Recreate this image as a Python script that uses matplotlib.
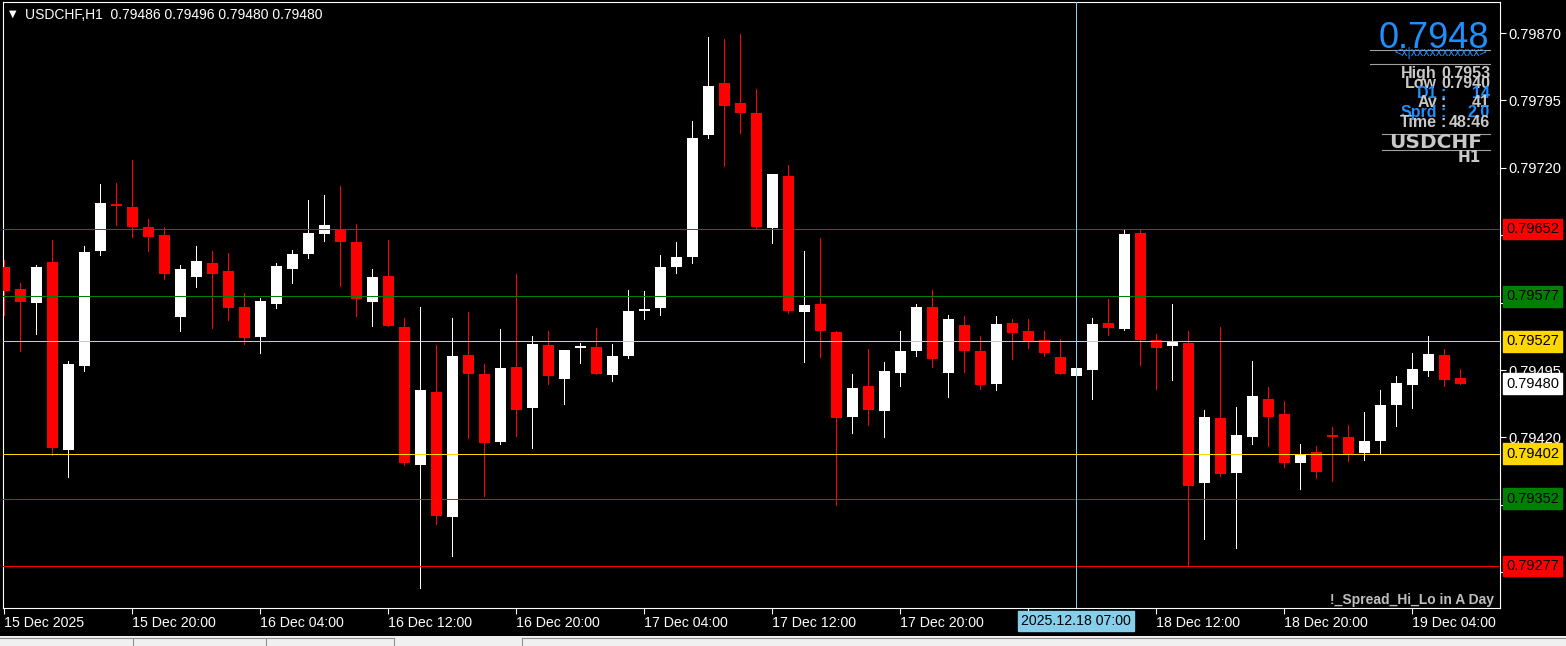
import matplotlib
matplotlib.use("Agg")
import matplotlib.pyplot as plt
from matplotlib.lines import Line2D
from matplotlib.patches import Rectangle
import numpy as np
import pandas as pd

# USDCHF H1 candles
start_time = "2025-12-15 12:00"
opens = [0.79610, 0.79585, 0.79570, 0.79615, 0.79406, 0.79499, 0.79628, 0.79680, 0.79676, 0.79654,
         0.79645, 0.79554, 0.79598, 0.79614, 0.79605, 0.79565, 0.79532, 0.79568, 0.79608, 0.79624,
         0.79646, 0.79651, 0.79637, 0.79571, 0.79600, 0.79543, 0.79389, 0.79471, 0.79331, 0.79512,
         0.79491, 0.79415, 0.79498, 0.79453, 0.79523, 0.79485, 0.79520, 0.79521, 0.79490, 0.79511,
         0.79561, 0.79564, 0.79610, 0.79621, 0.79757, 0.79814, 0.79792, 0.79781, 0.79653, 0.79711,
         0.79560, 0.79568, 0.79537, 0.79443, 0.79477, 0.79449, 0.79492, 0.79516, 0.79565, 0.79492,
         0.79545, 0.79516, 0.79480, 0.79547, 0.79538, 0.79528, 0.79510, 0.79488, 0.79495, 0.79547,
         0.79541, 0.79647, 0.79528, 0.79522, 0.79525, 0.79369, 0.79442, 0.79380, 0.79421, 0.79463,
         0.79446, 0.79392, 0.79404, 0.79423, 0.79421, 0.79403, 0.79416, 0.79456, 0.79478, 0.79494,
         0.79512, 0.79486]
highs = [0.79618, 0.79592, 0.79612, 0.79640, 0.79505, 0.79633, 0.79702, 0.79703, 0.79729, 0.79663,
         0.79654, 0.79612, 0.79633, 0.79627, 0.79625, 0.79581, 0.79575, 0.79614, 0.79629, 0.79684,
         0.79690, 0.79700, 0.79657, 0.79607, 0.79640, 0.79553, 0.79565, 0.79523, 0.79553, 0.79560,
         0.79502, 0.79541, 0.79602, 0.79533, 0.79538, 0.79517, 0.79525, 0.79542, 0.79524, 0.79584,
         0.79583, 0.79623, 0.79637, 0.79772, 0.79866, 0.79863, 0.79869, 0.79808, 0.79713, 0.79723,
         0.79627, 0.79642, 0.79538, 0.79491, 0.79518, 0.79504, 0.79538, 0.79568, 0.79584, 0.79556,
         0.79555, 0.79533, 0.79555, 0.79552, 0.79552, 0.79538, 0.79530, 0.79500, 0.79553, 0.79574,
         0.79652, 0.79652, 0.79535, 0.79568, 0.79538, 0.79451, 0.79543, 0.79454, 0.79505, 0.79476,
         0.79461, 0.79413, 0.79410, 0.79432, 0.79434, 0.79448, 0.79473, 0.79488, 0.79514, 0.79533,
         0.79518, 0.79496]
lows = [0.79556, 0.79516, 0.79535, 0.79400, 0.79376, 0.79494, 0.79623, 0.79656, 0.79643, 0.79627,
        0.79596, 0.79538, 0.79587, 0.79542, 0.79551, 0.79524, 0.79514, 0.79564, 0.79592, 0.79620,
        0.79639, 0.79588, 0.79555, 0.79544, 0.79544, 0.79389, 0.79252, 0.79324, 0.79288, 0.79419,
        0.79355, 0.79413, 0.79422, 0.79408, 0.79480, 0.79457, 0.79503, 0.79491, 0.79483, 0.79508,
        0.79552, 0.79556, 0.79603, 0.79614, 0.79753, 0.79722, 0.79759, 0.79652, 0.79636, 0.79559,
        0.79504, 0.79510, 0.79345, 0.79425, 0.79434, 0.79421, 0.79477, 0.79511, 0.79498, 0.79465,
        0.79493, 0.79474, 0.79473, 0.79507, 0.79520, 0.79511, 0.79491, 0.79486, 0.79463, 0.79534,
        0.79540, 0.79501, 0.79474, 0.79484, 0.79277, 0.79307, 0.79377, 0.79297, 0.79413, 0.79410,
        0.79387, 0.79363, 0.79375, 0.79372, 0.79394, 0.79395, 0.79403, 0.79433, 0.79453, 0.79488,
        0.79477, 0.79480]
closes = [0.79583, 0.79571, 0.79610, 0.79408, 0.79502, 0.79626, 0.79681, 0.79677, 0.79654, 0.79643,
          0.79602, 0.79607, 0.79616, 0.79602, 0.79564, 0.79531, 0.79572, 0.79611, 0.79624, 0.79647,
          0.79656, 0.79637, 0.79574, 0.79598, 0.79544, 0.79392, 0.79473, 0.79333, 0.79511, 0.79491,
          0.79414, 0.79497, 0.79451, 0.79524, 0.79488, 0.79517, 0.79522, 0.79491, 0.79511, 0.79561,
          0.79563, 0.79610, 0.79621, 0.79753, 0.79811, 0.79789, 0.79781, 0.79654, 0.79713, 0.79561,
          0.79567, 0.79538, 0.79442, 0.79475, 0.79451, 0.79494, 0.79516, 0.79565, 0.79507, 0.79552,
          0.79516, 0.79478, 0.79546, 0.79536, 0.79527, 0.79514, 0.79491, 0.79497, 0.79546, 0.79542,
          0.79646, 0.79528, 0.79520, 0.79526, 0.79366, 0.79443, 0.79379, 0.79423, 0.79466, 0.79443,
          0.79392, 0.79402, 0.79382, 0.79421, 0.79400, 0.79416, 0.79456, 0.79481, 0.79496, 0.79513,
          0.79484, 0.79480]

levels = [0.79652, 0.79577, 0.79527, 0.79402, 0.79352, 0.79277]
level_colors = ["#ff0000", "#008000", "#ffd700", "#ffd700", "#008000", "#ff0000"]
last_price = 0.79480
price_ticks = [0.79270, 0.79345, 0.79420, 0.79495, 0.79570, 0.79645, 0.79720, 0.79795, 0.79870]
hidden_ticks = [0.79270, 0.79345, 0.79570, 0.79645]   # covered by the level boxes

crosshair_bar = 67
crosshair_label = "2025.12.18 07:00"
header = "USDCHF,H1  0.79486 0.79496 0.79480 0.79480"
big_price = "0.7948"
info_labels = ["High", "Low", "D1", "Av", "Sprd", "Time"]
info_values = ["0.7953", "0.7940", "14", "41", "2.0", "48:46"]
footer = "!_Spread_Hi_Lo in A Day"

W, H = 1566, 646
BLUE = "#1e90ff"
GRAY = "#c8c8c8"
PX = 0.72  # one pixel in points


def fx(x):
    return x / W


def fy(y):
    return 1 - y / H


fig = plt.figure(figsize=(W / 100, H / 100), dpi=100, facecolor="black")
ax = fig.add_axes([fx(3), fy(608), fx(1500) - fx(3), fy(2) - fy(608)])
ax.set_facecolor("black")

o = np.array(opens)
h = np.array(highs)
l = np.array(lows)
c = np.array(closes)
idx = np.arange(len(o))
cols = np.where(c >= o, "white", "#ff0000")

ax.vlines(idx, l, h, colors=cols, lw=PX, zorder=2, antialiased=False)
body = np.maximum(np.abs(c - o), 0.000012)
ax.bar(idx, body, bottom=np.minimum(o, c), width=0.69, color=cols, lw=0, zorder=3, antialiased=False)

for lv, col in zip(levels, level_colors):
    ax.axhline(lv, color=col, lw=PX, zorder=4, antialiased=False)

ax.axvline(crosshair_bar, color="#87ceeb", lw=PX, zorder=5, antialiased=False)

ax.set_xlim(-0.08, 93.48)
ax.set_ylim(0.792303, 0.799045)

# time axis (the label under the crosshair box is not shown)
times = pd.date_range(start_time, periods=len(o), freq="h")
tick_idx = list(range(0, len(o), 8))
tick_lbls = [times[0].strftime("%d %b %Y")] + [times[i].strftime("%d %b %H:%M") for i in tick_idx[1:]]
tick_lbls = ["" if abs(i - crosshair_bar) < 5 else t for i, t in zip(tick_idx, tick_lbls)]
ax.set_xticks(tick_idx)
ax.set_xticklabels(tick_lbls, ha="left", family="Liberation Sans", fontsize=10.2)

# price axis
ax.yaxis.tick_right()
ax.set_yticks(price_ticks)
ax.set_yticklabels(["" if p in hidden_ticks else f"{p:.5f}" for p in price_ticks],
                   family="Liberation Sans", fontsize=10.5)
ax.tick_params(colors="white", length=4, width=0.8, pad=2)
for sp in ax.spines.values():
    sp.set_color("white")
    sp.set_linewidth(0.8)

for lv, col in zip(levels, level_colors):
    ax.annotate(f"{lv:.5f}", xy=(1, lv), xycoords=("axes fraction", "data"), xytext=(6, 0),
                textcoords="offset pixels", va="center", ha="left", fontsize=10.5,
                family="Liberation Sans", color="black", annotation_clip=False, zorder=10,
                bbox=dict(boxstyle="square,pad=0.22", fc=col, ec=col))
ax.annotate(f"{last_price:.5f}", xy=(1, last_price), xycoords=("axes fraction", "data"), xytext=(6, 0),
            textcoords="offset pixels", va="center", ha="left", fontsize=10.5,
            family="Liberation Sans", color="black", annotation_clip=False, zorder=10,
            bbox=dict(boxstyle="square,pad=0.22", fc="white", ec="white"))

# crosshair time label
fig.text(fx(1076), fy(621), crosshair_label, ha="center", va="center", fontsize=10.2,
         family="Liberation Sans", color="black", zorder=10,
         bbox=dict(boxstyle="square,pad=0.2", fc="#87ceeb", ec="#87ceeb"))

# header
fig.text(fx(13), fy(14), "\u25bc", ha="center", va="center", fontsize=7, color="white")
fig.text(fx(25), fy(15), header, ha="left", va="center", fontsize=10, family="Liberation Sans", color="white")

# info panel
fig.text(fx(1489), fy(48.5), big_price, ha="right", va="baseline", fontsize=26,
         family="Liberation Sans", color=BLUE)
fig.text(fx(1487), fy(53), "<x|xxxxxxxxxxx>", ha="right", va="center", fontsize=9,
         family="Liberation Sans", color=BLUE)
for y, x0 in [(49.5, 1370), (64, 1370), (134, 1382), (149.5, 1382)]:
    fig.add_artist(Line2D([fx(x0), fx(1490)], [fy(y), fy(y)], color="#a0a0a0", lw=0.8))

row_colors = [GRAY, GRAY, BLUE, GRAY, BLUE, GRAY]
for k, (lab, val, col) in enumerate(zip(info_labels, info_values, row_colors)):
    base = 78 + 9.8 * k
    fig.text(fx(1437), fy(base), lab, ha="right", va="baseline", fontsize=11.5,
             family="Liberation Sans", weight="bold", color=col)
    fig.text(fx(1490), fy(base), val, ha="right", va="baseline", fontsize=11.5,
             family="Liberation Sans", weight="bold", color=col)
    if k >= 2:
        fig.text(fx(1443), fy(base), ":", ha="center", va="baseline", fontsize=11.5,
                 family="Liberation Sans", weight="bold", color=col)

fig.text(fx(1482), fy(148.5), "USDCHF", ha="right", va="baseline", fontsize=14.5,
         family="DejaVu Sans", weight="bold", color=GRAY)
fig.text(fx(1481), fy(161.5), "H1", ha="right", va="baseline", fontsize=11,
         family="DejaVu Sans", weight="bold", color=GRAY)

fig.text(fx(1494), fy(600), footer, ha="right", va="center", fontsize=10,
         family="Liberation Sans", weight="bold", color="#bebebe")

# tab bar at the bottom
fig.add_artist(Rectangle((0, 0), 1, fy(636), transform=fig.transFigure, fc="#f0f0f0", ec="none"))
for x0, x1 in [(0, 394), (522, 1566)]:
    fig.add_artist(Line2D([fx(x0), fx(x1)], [fy(638), fy(638)], color="#909090", lw=0.8))
for x in [133, 266, 394, 522]:
    fig.add_artist(Line2D([fx(x), fx(x)], [fy(638), 0], color="#909090", lw=0.8))

fig.savefig("out.png", dpi=100, facecolor="black")
